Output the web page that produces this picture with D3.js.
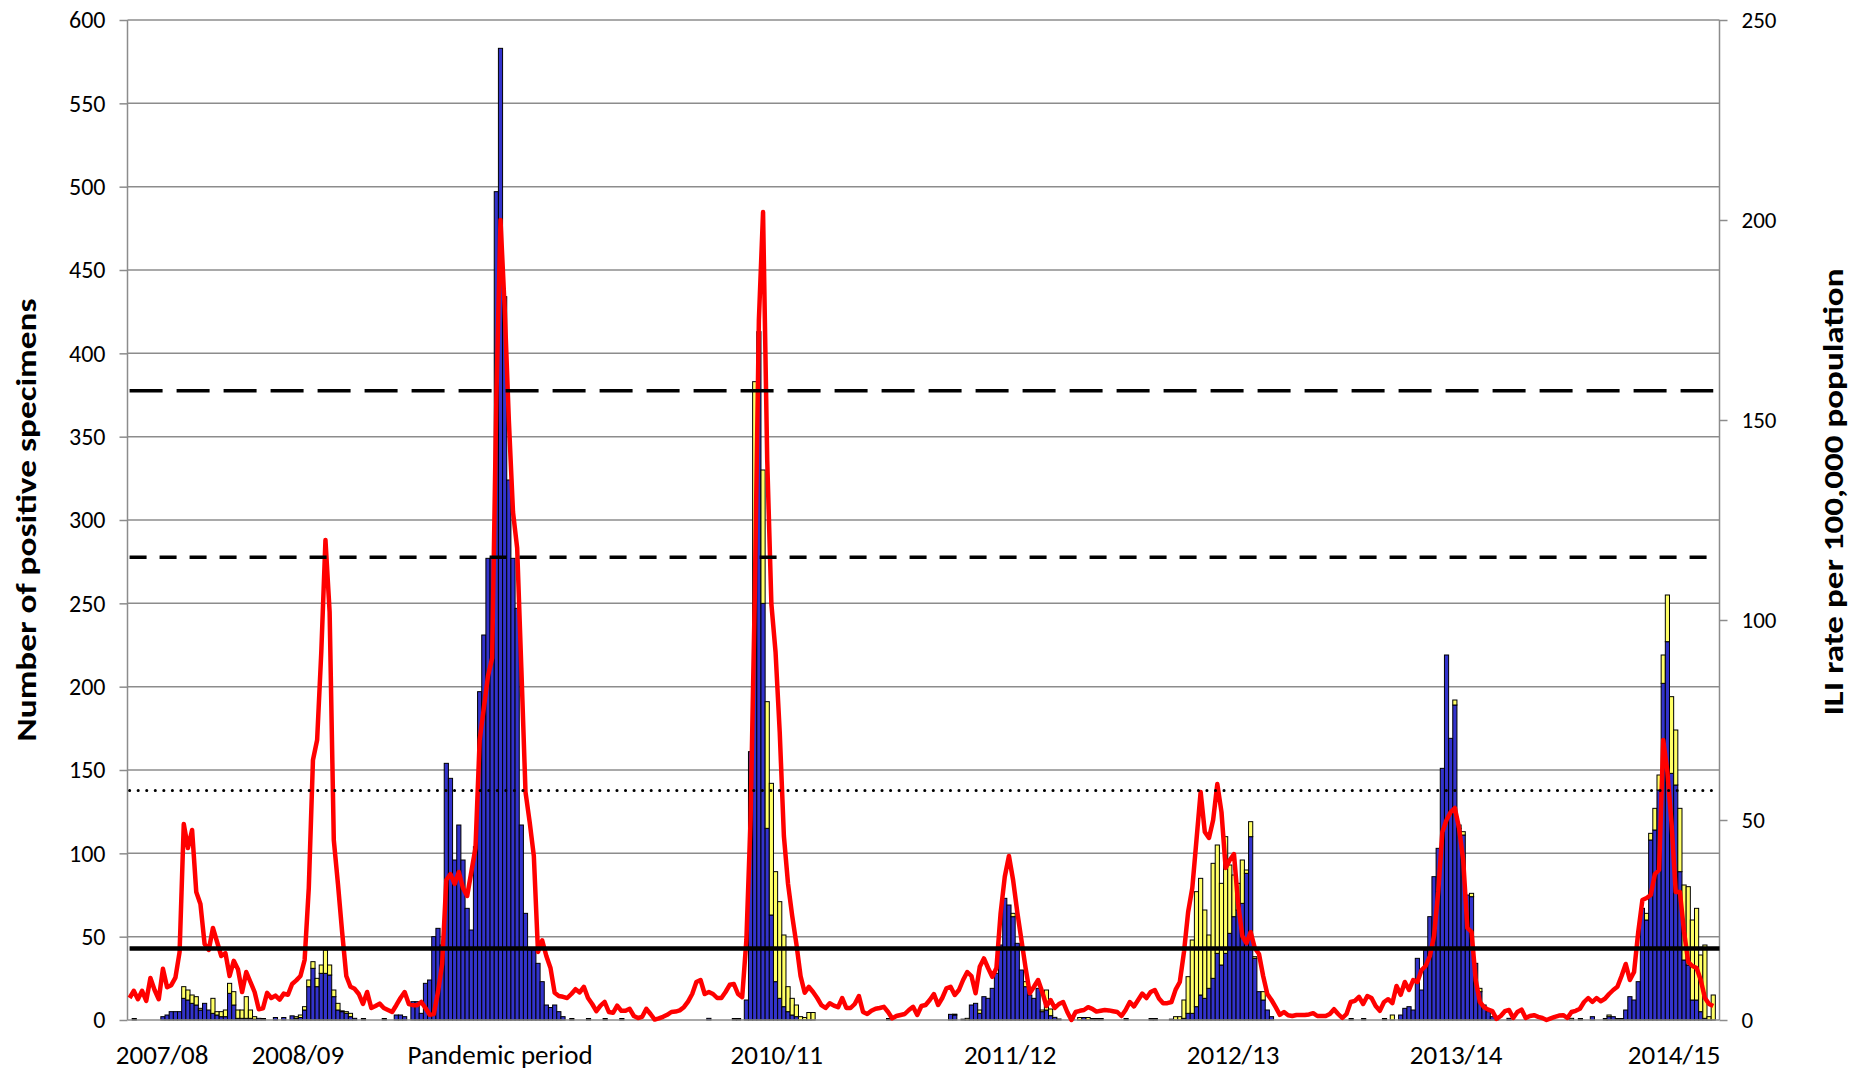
<!DOCTYPE html>
<html><head><meta charset="utf-8">
<script src="https://cdn.jsdelivr.net/npm/d3@7"></script>
<style>
body{margin:0;background:#fff}
svg{display:block}
text{font-family:Carlito,Lato,"Open Sans",sans-serif;fill:#000}
</style>
</head><body>
<svg id="chart" width="1868" height="1070"></svg>
<script>
const _ = null;
// ILI rate per 100,000 population (right axis), weekly
const iliRate = [
5.5,7.3,5.2,7.3,4.8,10.5,7.5,5.2,12.8,8.2,
8.7,10.6,17,49,43,47.5,32,29,19,17.5,
23,19.5,16,16.7,11,14.8,12.7,7,12,9.5,
7,2.7,2.9,6.8,5.5,6.1,5.1,6.6,6.3,9,
9.9,11,15,33,65,70,92,120,102,45,
34,22,11,8.3,7.8,6.5,4,7,3,3.5,
4.1,3,2.5,2,3.7,5.5,7,4,3.7,3.7,
4.5,3,1.3,1.5,7,14,35,36.5,34,37,
33,31,37,43,70,78,86,90.5,155,200,
178,150,127,118,88,57,49.5,41,17,19.9,
16,13,6.8,6,5.8,5.5,6.5,7.7,6.9,8.3,
5.5,4,2.2,3.6,4.5,2,1.8,3.6,2.3,2.3,
2.8,1,0.5,0.8,2.8,1.5,0.1,0.4,0.8,1.3,
2,2.1,2.4,3.2,4.6,6.5,9.5,10,6.5,7,
6.5,5.5,5.5,7,8.8,9,6.5,5.7,20,50,
105,175,202,140,104,92,72,46,34,26,
19,11,6.8,8.3,7,5.5,3.7,3,4.2,3.6,
3.2,5.5,3,3,4,6,2,1.5,2.3,2.8,
3,3.3,2,0.4,1,1.25,1.5,2.5,3.3,1.25,
3.5,3.75,5,6.5,3.75,5.5,7.9,8.3,6.25,7.5,
10,12,11,6.7,13.3,15.4,13,10.8,13,26.7,
35.8,41,35,27,20,13,6.7,8.3,10,7,
3.5,5,3,4,4.5,2,0,2,2.3,2.5,
3.2,2.8,2.1,2.3,2.5,2.4,2.2,2,1,2.5,
4.5,3.4,5,6.6,5.5,7,7.5,5.4,4.2,4.2,
4.5,7.6,9.5,17,27,33,45,57,47,45.5,
50,59,52,38,40,41.5,29,21,19.2,22,
18,16.5,11,6.5,5,3.2,1.3,2,1.2,1,
1.25,1.25,1.25,1.4,1.7,1,1,1,1.5,2.7,
1.5,0.5,1.5,4.5,4.8,5.8,4,6,5.5,3.5,
2.3,4.5,5.2,4.2,8.5,6.3,9.5,7.5,10,9.5,
12.5,13.5,16,21,32,47,50,52,53,48,
40,23,22,10,4.5,3.2,2.6,2.2,0.3,1,
2.2,2.5,0.5,2,2.6,0.5,1,1.2,0.8,0.5,
0,0.4,0.8,1.1,1.2,0.5,2,2.3,2.8,4.5,
5.5,4.5,5.5,4.7,5.3,6.5,7.5,8.3,11,14,
10,12,22,30,30.5,31.25,36.5,37.5,70,62,
49,32,32,22,14.5,13.5,13,10,5.5,4,
3.5
];
// Number of positive specimens, first (blue) series, weekly
const positivesBlue = [
_,0,_,_,_,_,_,_,2,3,
5,5,5,13,12,10,9,6,10,6,
4,3,2,2,16,9,1,1,1,1,
0.5,1,0,_,_,1.5,_,1.5,_,2.5,
1,1.5,6,20,31,20,28,28,27,14,
6,5,4,2,1,_,0,_,_,_,
_,0,_,_,3,3,2,_,11,11,
4,22,24,50,55,45,154,145,96,117,
96,67,54,104,197,231,277,277,497,583,
434,324,277,247,117,64,42,42,34,23,
9,7.5,9,5,2,_,0,_,_,_,
0,_,_,_,0,_,_,_,0,_,
_,_,_,_,_,_,_,_,_,_,
_,_,_,_,_,_,_,_,_,1,
_,_,_,_,_,0,0,_,12,161,
250,413,250,115,63,23,13,8,5,3,
2,0,_,_,_,_,_,_,_,_,
_,_,_,_,_,_,_,_,_,_,
_,_,0,_,_,_,_,_,_,_,
_,_,_,_,_,_,_,3.4,3,_,
0.5,_,9,10,4,14,13,19,28,45,
73,69,62,46,30,20,15,13,19,5,
6,2.6,1.6,0.6,_,_,0,_,_,1.5,
_,0,0,0,_,_,_,_,_,0,
_,_,_,_,_,0,0,_,_,_,
0.5,_,_,1,4,4,8,15,13,19,
25,40,33,40,52,62,66,70,88,110,
37,17,12,6,2,_,_,_,_,_,
_,_,_,_,_,_,_,_,_,_,
_,_,_,0,_,_,0,_,_,_,
_,0,_,_,_,3,7,8,6,37,
18,42,62,86,103,151,219,169,189,115,
111,75,74,34,17,9,5,2,1,_,
_,1,_,_,_,_,_,_,_,_,
0,_,_,_,_,_,_,_,0,_,
_,2,_,_,0,2,2,0,0,6,
14,12,23,67,60,108,114,138,202,227,
148,141,89,36,33,12,12,5,1,_,
_
];
// Number of positive specimens, second (yellow) series, stacked on top
const positivesYellow = [
_,_,_,_,_,_,_,_,_,_,
_,_,_,7,6,5,5,1,_,_,
9,2,3,4,6,8,5,5,13,5,
1.5,_,_,_,_,_,_,_,_,_,
1,1.5,2,4,4,5,5,14,6,4,
4,0.5,1,2,_,_,_,_,_,_,
_,_,_,_,_,_,_,_,_,_,
_,_,_,_,_,_,_,_,_,_,
_,_,_,_,_,_,_,_,_,_,
_,_,_,_,_,_,_,_,_,_,
_,_,_,_,_,_,_,_,_,_,
_,_,_,_,_,_,_,_,_,_,
_,_,_,_,_,_,_,_,_,_,
_,_,_,_,_,_,_,_,_,_,
_,_,_,_,_,_,_,_,_,_,
133,_,80,76,79,66,58,43,15,10,
7,2,1.5,4.5,4.5,_,_,_,_,_,
_,_,_,_,_,_,_,_,_,_,
_,_,_,_,_,_,_,_,_,_,
_,_,_,_,_,_,_,_,0.5,_,
_,1,_,_,2,_,_,_,_,_,
_,_,2,_,_,3,_,_,_,1,
12,4,_,_,_,_,_,_,1.5,_,
1.5,_,_,_,_,_,_,_,_,_,
_,_,_,_,_,_,_,_,_,_,
_,2,2,11,22,44,69,70,53,32,
69,65,49,70,41,25,16,26,2,9,
1,_,5,_,_,_,_,_,_,_,
_,_,_,_,_,_,_,_,_,_,
_,_,_,_,_,_,_,_,_,_,
_,_,_,3,_,_,_,_,_,_,
_,_,_,_,_,_,_,_,3,2,
2,_,2,_,2,_,_,_,_,_,
_,_,_,_,_,_,_,_,_,_,
_,_,_,_,_,_,1,_,_,_,
_,_,_,_,_,1,_,_,_,_,
_,_,_,_,4,4,13,9,17,28,
46,33,38,45,47,48,55,34,44,2,
15
];
const weekCount = 382;
// Threshold levels on the ILI axis
const thresholdLevels = [17.9, 57.4, 115.7, 157.3];
const thresholdStyles = ["solid", "dotted", "dash", "longdash"];
const leftTicks = [0,50,100,150,200,250,300,350,400,450,500,550,600];
const rightTicks = [0,50,100,150,200,250];
const seasonNames = ["2007/08","2008/09","Pandemic period","2010/11","2011/12","2012/13","2013/14","2014/15"];
const seasonWeeks = [7.8,40.4,88.9,155.3,211.3,264.8,318.3,370.6];

const svg = d3.select("#chart");
const L = 127.5, R = 1719.5, T = 20, B = 1020;
const x = d3.scaleBand().domain(d3.range(weekCount)).range([L, R]).padding(0);
const bw = x.bandwidth();
const yL = d3.scaleLinear().domain([0, 600]).range([B, T]);
const yR = d3.scaleLinear().domain([0, 250]).range([B, T]);
const cx = i => x(i) + bw / 2;

// gridlines
svg.append("g").selectAll("line").data(leftTicks.filter(d => d > 0)).join("line")
  .attr("x1", L).attr("x2", R).attr("y1", d => yL(d)).attr("y2", d => yL(d))
  .attr("stroke", "#8c8c8c").attr("stroke-width", 1.5);

// bars
const gBars = svg.append("g");
d3.range(positivesBlue.length).forEach(i => {
  const b = positivesBlue[i], yv = positivesYellow[i];
  if (b === 0 && (yv == null)) {
    gBars.append("rect").attr("x", x(i)).attr("y", yL(0) - 2).attr("width", bw + 1).attr("height", 2.5).attr("fill", "#000");
    return;
  }
  let base = 0;
  if (b != null && b > 0) {
    gBars.append("rect").attr("x", x(i)).attr("width", bw)
      .attr("y", yL(b)).attr("height", yL(0) - yL(b))
      .attr("fill", "#3333cc").attr("stroke", "#000").attr("stroke-width", 1);
    base = b;
  }
  if (yv != null && yv > 0) {
    gBars.append("rect").attr("x", x(i)).attr("width", bw)
      .attr("y", yL(base + yv)).attr("height", yL(base) - yL(base + yv))
      .attr("fill", "#ffff66").attr("stroke", "#000").attr("stroke-width", 1);
  }
});

// axes lines
svg.append("line").attr("x1", L).attr("x2", L).attr("y1", T).attr("y2", B).attr("stroke", "#8c8c8c").attr("stroke-width", 1.5);
svg.append("line").attr("x1", R).attr("x2", R).attr("y1", T).attr("y2", B).attr("stroke", "#8c8c8c").attr("stroke-width", 1.5);
svg.append("line").attr("x1", L).attr("x2", R).attr("y1", B).attr("y2", B).attr("stroke", "#8c8c8c").attr("stroke-width", 1.5);

// left axis
const axL = d3.axisLeft(yL).tickValues(leftTicks).tickSize(8).tickPadding(14);
const gL = svg.append("g").attr("transform", `translate(${L},0)`).call(axL);
gL.select(".domain").remove();
gL.selectAll(".tick line").attr("stroke", "#8c8c8c").attr("stroke-width", 1.5);
gL.selectAll(".tick text").attr("font-size", 24).attr("font-family", "Carlito,Lato,sans-serif").attr("fill", "#000");

// right axis
const axR = d3.axisRight(yR).tickValues(rightTicks).tickSize(8).tickPadding(14);
const gR = svg.append("g").attr("transform", `translate(${R},0)`).call(axR);
gR.select(".domain").remove();
gR.selectAll(".tick line").attr("stroke", "#8c8c8c").attr("stroke-width", 1.5);
gR.selectAll(".tick text").attr("font-size", 23).attr("font-family", "Carlito,Lato,sans-serif").attr("fill", "#000");

// ILI line
const line = d3.line().defined(d => d != null).x((d, i) => cx(i)).y(d => yR(d));
svg.append("path").datum(iliRate).attr("d", line)
  .attr("fill", "none").attr("stroke", "#ff0000").attr("stroke-width", 4.5).attr("stroke-linejoin", "round");

// thresholds
const lastIdx = iliRate.length - 1;
thresholdLevels.forEach((v, k) => {
  const st = thresholdStyles[k];
  const ln = svg.append("line").attr("x1", cx(0)).attr("x2", st === "solid" ? R : cx(lastIdx))
    .attr("y1", yR(v)).attr("y2", yR(v)).attr("stroke", "#000").attr("fill", "none");
  if (st === "solid") ln.attr("stroke-width", 4.5);
  if (st === "dotted") ln.attr("stroke-width", 3).attr("stroke-dasharray", "0.1,8.45").attr("stroke-linecap", "round");
  if (st === "dash") ln.attr("stroke-width", 3.5).attr("stroke-dasharray", "17,13");
  if (st === "longdash") ln.attr("stroke-width", 3.5).attr("stroke-dasharray", "33,14");
});

// season labels
svg.append("g").selectAll("text").data(seasonNames).join("text")
  .attr("x", (d, k) => L + bw * (seasonWeeks[k] + 0.5)).attr("y", 1064)
  .attr("text-anchor", "middle").attr("font-size", 27).text(d => d);

// axis titles
svg.append("text").attr("transform", "translate(36,520) rotate(-90)")
  .attr("text-anchor", "middle").attr("font-size", 29).attr("font-weight", "bold")
  .attr("textLength", 443).attr("lengthAdjust", "spacingAndGlyphs")
  .text("Number of positive specimens");
svg.append("text").attr("transform", "translate(1843,492) rotate(-90)")
  .attr("text-anchor", "middle").attr("font-size", 29).attr("font-weight", "bold")
  .attr("textLength", 447).attr("lengthAdjust", "spacingAndGlyphs")
  .text("ILI rate per 100,000 population");
</script>
</body></html>
